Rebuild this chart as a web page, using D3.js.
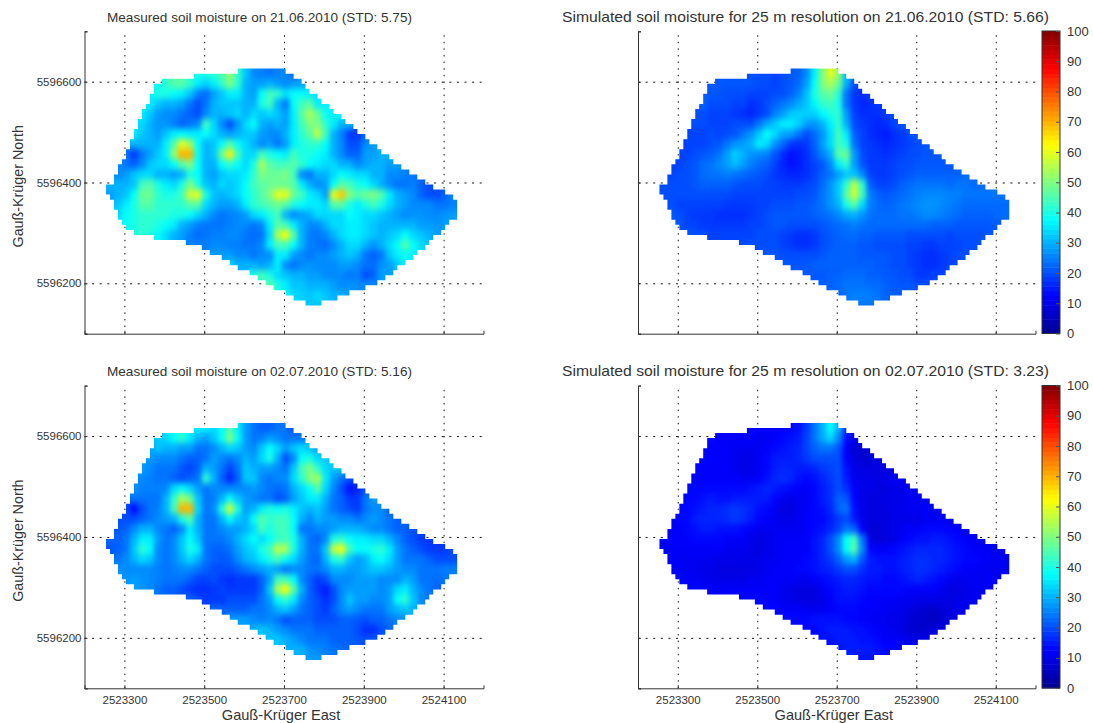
<!DOCTYPE html>
<html>
<head>
<meta charset="utf-8">
<title>Soil moisture</title>
<script src="https://cdn.jsdelivr.net/npm/d3@7"></script>
<style>
  body { margin: 0; background: #fff; overflow: hidden; }
  text { font-family: "Liberation Sans", Arial, sans-serif; fill: #333; }
</style>
</head>
<body>
<svg width="1093" height="723"></svg>
<script>
// tick labels
var eastTicks = [2523300, 2523500, 2523700, 2523900, 2524100];
var northTicks = [5596200, 5596400, 5596600];
var barTicks = [0, 10, 20, 30, 40, 50, 60, 70, 80, 90, 100];

// field outline: first and last+1 column (10 m lattice) of each 10 m row, north to south
var rowStart = [33,22,14,12,12,11,11,10,9,9,8,8,7,7,6,6,5,5,4,3,3,2,2,0,0,1,2,2,3,3,4,5,7,12,20,24,26,29,31,33,36,38,40,42,45,47,50];
var rowEnd = [45,47,49,50,51,53,54,56,57,59,60,62,63,65,66,68,69,71,72,74,76,78,80,82,85,87,88,88,88,88,86,85,84,82,81,80,78,77,75,73,72,70,68,65,61,58,54];

// soil moisture, 20 m blocks, each row starts at the outline
var measuredJune = [
  [40,40,42,45,52,42,32,26,25,24,25,26,22],
  [38,42,46,46,42,36,33,36,42,50,42,30,28,28,30,28,26,28,28],
  [36,40,40,38,36,32,25,23,28,32,36,36,30,28,38,44,42,35,38,38,36,34],
  [36,32,30,30,28,24,20,24,30,32,32,32,30,30,40,44,30,24,38,44,46,36,36],
  [36,32,28,26,26,24,22,20,26,30,30,32,34,30,34,32,34,32,28,36,46,54,48,38,36,38],
  [34,30,27,27,25,22,24,26,44,34,26,20,27,34,38,30,28,30,28,36,44,50,50,42,36,30,30],
  [36,32,30,28,32,36,38,36,36,38,34,30,28,30,32,32,28,26,26,30,36,42,46,56,44,30,25,18,18,22],
  [30,30,30,30,36,46,60,54,38,30,32,38,46,38,34,30,26,28,24,28,36,40,42,42,38,30,26,20,20,26,28],
  [24,18,24,28,32,36,52,70,70,38,30,32,48,64,44,34,34,44,40,38,36,44,40,40,38,36,30,26,22,22,28,28,30,30],
  [26,24,22,26,32,34,34,38,46,50,38,30,30,38,42,38,34,40,54,46,44,44,46,42,38,36,34,34,30,30,26,28,30,30,28,28],
  [26,28,32,34,34,30,30,28,30,40,38,30,28,32,34,34,36,42,50,48,48,50,44,26,24,30,30,34,38,36,34,34,30,30,26,26,25,24],
  [30,30,30,32,44,46,40,36,34,40,50,40,32,30,34,32,34,38,44,46,48,48,48,46,36,30,26,28,38,46,44,40,38,34,30,26,24,24,25,22,20],
  [28,30,32,38,48,48,42,40,40,44,58,60,40,32,30,32,34,38,42,46,50,60,60,48,44,36,34,28,60,68,50,46,48,50,46,36,30,28,26,22,20,20,22,26],
  [32,36,40,46,46,42,42,42,42,46,46,34,30,28,28,30,36,42,44,46,48,46,40,38,36,36,34,46,46,40,36,40,44,40,34,30,28,26,26,26,24,24,25],
  [34,38,40,42,42,42,42,40,40,38,34,30,26,24,25,26,28,34,36,40,44,30,26,28,30,34,34,34,34,38,36,34,34,32,30,28,26,27,27,26,26,27,28],
  [38,40,42,42,40,38,36,30,28,25,24,24,24,25,26,26,24,26,36,46,44,36,30,26,26,30,34,34,36,36,34,32,30,30,30,30,30,28,28,27,28],
  [40,42,40,38,34,30,28,25,23,24,25,25,26,26,24,23,24,34,54,62,46,30,25,24,26,30,34,36,36,34,32,30,32,34,38,34,32,30,28],
  [25,25,25,26,26,25,25,24,24,26,36,44,44,38,30,25,24,23,26,30,34,34,30,27,30,34,38,46,38,34,32],
  [28,28,28,26,26,24,26,26,36,36,28,26,24,26,26,28,30,32,30,24,22,24,32,36,38,36],
  [34,30,30,30,28,30,36,26,24,26,27,26,26,26,28,28,26,24,23,27,28,32,36],
  [40,44,40,34,32,30,30,28,28,26,26,26,24,25,20,22,28,28],
  [46,40,36,32,32,30,30,30,28,26,27,26,26,26],
  [36,34,33,32,34,32,30,30,28],
  [32,32]
];
var simulatedJune = [
  [20,20,20,19,20,21,22,26,36,50,60,52,30],
  [21,21,21,21,21,21,20,20,19,20,21,23,28,38,50,54,48,30,20],
  [22,21,21,20,20,20,19,19,19,20,20,22,25,31,40,46,48,42,24,18,17,18],
  [22,20,20,20,19,19,17,18,20,22,24,26,29,32,37,42,44,40,24,18,16,17,18],
  [20,20,19,19,19,18,17,16,18,20,25,28,32,33,33,33,37,40,42,28,19,17,17,17,18,20],
  [20,20,19,19,19,20,20,20,24,29,32,36,36,33,28,27,30,36,42,30,20,18,17,16,17,19,21],
  [19,19,19,20,19,20,21,24,27,32,38,34,29,28,24,20,23,27,34,44,36,22,19,17,16,15,17,18,20,21],
  [19,19,19,20,21,24,27,28,30,36,34,27,23,18,17,18,22,28,34,44,40,24,19,18,17,16,17,18,19,20,21],
  [19,19,20,21,22,24,28,33,30,27,26,25,21,17,14,15,17,21,25,30,46,48,28,20,18,18,17,18,19,20,20,21,21,21],
  [19,19,20,21,23,24,26,28,31,28,25,23,22,19,16,14,15,17,19,21,26,36,42,28,21,18,18,18,19,20,20,21,21,21,21,21],
  [19,20,20,21,23,24,24,25,24,23,22,21,20,18,17,16,16,17,19,22,24,28,32,32,26,19,18,18,19,20,21,22,22,22,22,22,22,23],
  [20,20,20,20,21,22,22,22,22,21,20,20,20,19,19,18,18,18,19,20,23,27,32,42,56,42,22,19,19,20,22,23,24,24,24,24,23,24,24,23,23],
  [20,20,20,20,20,20,20,20,20,19,19,19,19,19,19,19,19,20,20,21,24,27,32,46,58,44,25,22,21,22,23,24,25,26,26,26,25,25,24,24,24,24,24,24],
  [20,19,19,19,19,19,19,18,18,18,18,19,19,20,20,20,21,21,22,24,27,30,40,46,34,25,23,22,23,24,25,26,27,27,26,25,24,23,23,23,23,23,23],
  [21,20,19,18,18,18,17,17,17,17,18,19,20,21,21,21,21,21,22,23,24,26,29,30,27,24,23,23,23,24,24,25,26,26,25,24,23,22,22,22,22,23,23],
  [21,19,19,18,18,18,18,18,18,19,19,20,21,21,20,20,20,20,21,22,23,24,25,24,23,23,23,23,23,23,23,23,22,22,22,21,21,21,21,21,21],
  [21,20,20,19,19,19,19,19,19,20,20,20,19,18,17,17,18,20,21,22,23,23,22,22,21,21,21,21,20,20,20,20,20,19,20,20,20,20,21],
  [20,20,20,20,20,19,18,17,17,18,20,21,22,22,22,21,21,20,20,20,20,19,19,18,18,19,19,19,20,20,21],
  [21,21,20,20,20,20,20,21,22,22,22,22,21,21,21,21,20,20,19,18,17,17,18,19,20,20],
  [21,21,21,21,22,22,22,22,22,22,22,22,21,21,20,20,19,18,17,17,18,19,19],
  [21,21,21,22,22,23,23,23,22,22,21,21,20,20,18,18,19,19],
  [22,22,23,24,24,24,23,23,22,21,21,21,20,20],
  [22,24,25,25,25,24,22,22,21],
  [24,24]
];
var measuredJuly = [
  [36,36,34,38,46,36,28,24,22,22,24,24,20],
  [32,34,38,42,36,30,28,32,38,50,38,28,24,25,28,26,24,24,24],
  [28,32,30,30,28,28,24,24,26,30,34,32,28,26,32,38,34,28,32,34,32,28],
  [28,26,26,26,24,22,22,24,28,26,24,26,30,28,34,40,30,20,26,38,40,34,32],
  [28,26,24,24,24,21,19,22,30,28,24,19,24,32,30,28,28,26,24,32,44,50,42,34,32,32],
  [26,25,24,24,22,20,22,24,42,30,22,16,22,32,32,26,24,26,26,34,42,50,54,36,28,24,20],
  [27,25,25,25,26,34,38,34,28,24,26,26,26,26,26,28,26,24,23,24,30,34,38,46,34,26,20,14,16,20],
  [24,24,24,24,30,42,54,48,32,24,25,30,38,32,28,26,24,24,20,22,28,32,36,36,30,24,22,18,18,24,28],
  [20,13,20,24,25,30,44,70,70,34,24,26,40,58,40,28,30,36,40,38,40,36,32,30,32,28,24,22,20,18,24,26,26,22],
  [20,20,20,22,24,26,28,30,40,46,30,24,24,30,38,32,30,38,46,42,44,44,38,30,26,30,28,28,26,26,24,26,28,26,24,22],
  [21,22,26,30,30,26,24,22,26,36,30,24,24,26,28,28,30,34,44,40,44,44,38,24,24,26,26,28,30,30,30,28,26,26,24,22,22,20],
  [22,22,24,30,36,36,28,24,26,32,38,32,24,24,24,26,30,34,38,34,38,42,44,40,30,24,22,26,40,42,38,36,36,34,34,30,26,22,20,18,18],
  [21,22,24,32,42,38,26,24,26,32,40,36,24,22,22,24,28,32,34,40,44,56,54,40,30,24,24,32,56,62,44,38,38,40,42,36,28,24,22,20,18,18,18,20],
  [24,26,30,34,32,26,24,26,30,34,30,24,22,21,22,26,30,32,36,40,44,38,34,28,24,22,30,40,42,32,28,30,36,38,34,28,24,24,24,22,20,20,20],
  [27,26,26,26,26,25,24,25,26,26,24,22,20,20,20,22,24,26,28,30,28,24,26,26,24,24,26,30,30,28,28,30,32,32,30,28,26,26,24,24,24,25,25],
  [27,28,27,26,25,24,24,24,22,19,19,20,18,17,18,18,18,22,28,44,44,38,26,22,18,20,26,26,26,28,28,28,26,26,26,30,28,24,24,23,24],
  [28,27,26,24,22,22,20,18,17,17,18,19,18,18,18,18,22,32,54,62,46,30,22,18,15,20,26,28,28,28,28,26,28,34,36,30,26,24,22],
  [22,20,18,18,18,20,20,20,20,24,28,38,42,36,26,22,20,17,20,26,32,28,28,26,26,28,38,42,32,26,24],
  [23,22,22,22,22,24,24,26,30,32,28,24,22,20,18,22,26,28,26,24,24,24,28,30,32,30],
  [28,28,28,26,25,26,24,20,22,22,22,20,20,20,22,22,21,20,22,22,24,26,26],
  [30,32,30,28,26,24,24,24,22,22,22,22,22,20,17,17,20,22],
  [32,32,30,28,26,24,24,24,22,22,22,21,20,21],
  [30,30,30,27,26,25,24,23,22],
  [28,28]
];
var simulatedJuly = [
  [13,12,12,12,12,13,14,18,24,30,38,30,17],
  [13,12,12,12,12,12,11,11,12,13,14,15,19,24,29,34,26,14,11],
  [13,12,12,12,11,11,11,11,12,13,14,15,16,19,22,24,24,21,12,8,8,9],
  [13,12,12,12,11,10,10,11,13,15,15,15,16,18,20,20,20,20,12,9,7,8,9],
  [13,12,12,12,12,11,10,10,11,13,15,16,16,15,15,16,18,19,20,14,10,9,9,9,9,10],
  [13,12,12,12,12,12,11,11,12,14,16,17,16,14,13,14,16,18,20,15,11,10,10,9,10,11,12],
  [13,13,13,13,13,13,13,13,14,15,16,15,14,13,12,12,13,15,17,20,17,12,10,10,9,9,10,10,11,12],
  [13,13,14,15,14,14,15,15,15,15,15,13,11,10,11,11,13,15,17,22,21,13,10,9,9,10,10,10,11,11,12],
  [13,13,14,15,16,16,17,18,17,16,14,13,11,9,9,11,12,13,14,16,22,24,14,10,9,9,9,10,11,11,11,12,12,12],
  [12,13,13,15,16,16,16,17,18,17,15,13,12,11,10,10,11,12,13,13,15,18,20,15,10,9,9,9,10,10,10,10,11,11,11,11],
  [12,12,13,14,15,15,14,14,14,13,12,11,11,11,11,11,11,12,13,14,16,19,24,22,12,8,8,9,10,11,12,12,13,13,13,12,12,12],
  [12,12,12,12,13,13,13,13,12,12,12,10,9,10,11,12,12,12,12,14,16,20,26,38,44,24,10,8,9,10,12,13,14,14,15,15,14,13,12,11,11],
  [12,12,12,12,12,12,12,12,11,11,11,10,9,10,11,12,12,12,12,14,16,20,26,38,46,26,13,12,12,13,14,15,16,16,16,16,15,14,13,12,12,11,11,11],
  [12,11,11,11,11,11,10,10,10,10,10,10,11,11,12,12,12,13,14,16,18,22,28,30,21,15,14,14,14,15,16,17,17,16,16,15,14,13,13,12,12,11,11],
  [12,12,11,11,10,10,9,9,9,9,9,10,11,12,12,12,13,13,14,15,16,18,20,20,17,15,15,14,14,15,16,17,17,16,15,14,13,12,12,11,11,11,11],
  [13,12,11,11,10,10,10,10,10,11,11,12,12,12,12,11,11,12,13,14,15,16,16,15,14,14,13,13,14,15,16,15,14,13,11,10,11,11,11,12,12],
  [13,13,12,12,12,12,12,12,12,12,12,12,11,10,9,9,9,11,13,14,15,15,14,13,13,13,13,13,12,12,12,12,11,9,9,10,11,11,12],
  [13,13,13,12,12,11,10,9,9,9,10,12,14,14,14,13,12,12,12,12,11,11,10,10,10,10,9,10,10,11,12],
  [13,13,12,12,12,11,11,11,12,13,13,13,12,12,12,11,11,10,9,8,7,7,8,9,10,11],
  [13,13,13,13,14,14,14,14,13,13,12,12,11,11,10,10,8,7,7,6,7,8,9],
  [13,13,14,15,15,15,14,14,13,12,11,11,9,8,7,7,8,9],
  [14,14,15,15,15,14,14,13,12,12,11,10,10,10],
  [14,15,15,15,15,14,13,13,12],
  [14,14]
];

var titles = [
  "Measured soil moisture on 21.06.2010 (STD: 5.75)",
  "Simulated soil moisture for 25 m resolution on 21.06.2010 (STD: 5.66)",
  "Measured soil moisture on 02.07.2010 (STD: 5.16)",
  "Simulated soil moisture for 25 m resolution on 02.07.2010 (STD: 3.23)"
];
var grids = [measuredJune, simulatedJune, measuredJuly, simulatedJuly];

var svg = d3.select("svg");

// matlab jet
var jet = d3.scaleLinear()
    .domain([0, 12.5, 37.5, 62.5, 87.5, 100])
    .range(["#00008f", "#0000ff", "#00ffff", "#ffff00", "#ff0000", "#800000"])
    .clamp(true);

var eastDomain = [2523200, 2524200];
var northDomain = [5596100, 5596700];
var eastStart = 2523254;
var northStart = 5596626;

var defs = svg.append("defs");

// soften the blocks, then put the edge back to full opacity (outline is clipped anyway)
var blur = defs.append("filter").attr("id", "soft")
    .attr("x", "-5%").attr("y", "-5%").attr("width", "110%").attr("height", "110%")
    .attr("color-interpolation-filters", "sRGB");
blur.append("feGaussianBlur").attr("stdDeviation", "2.6 3.2");
blur.append("feComponentTransfer").append("feFuncA")
    .attr("type", "linear").attr("slope", 40);

function drawPanel(index, left, right, top, bottom) {
    var x = d3.scaleLinear().domain(eastDomain).range([left, right]);
    var y = d3.scaleLinear().domain(northDomain).range([bottom, top]);
    var isLeft = index % 2 == 0;
    var isLow = index > 1;
    var g = svg.append("g");

    // dotted grid under the map
    var gridX = g.append("g")
        .attr("transform", "translate(0," + bottom + ")")
        .call(d3.axisBottom(x).tickValues(eastTicks).tickSize(top - bottom).tickFormat(""));
    var gridY = g.append("g")
        .attr("transform", "translate(" + left + ",0)")
        .call(d3.axisLeft(y).tickValues(northTicks).tickSize(left - right).tickFormat(""));
    gridX.select(".domain").remove();
    gridY.select(".domain").remove();
    gridX.selectAll("line").attr("stroke", "#111").attr("stroke-dasharray", "1.5,5.1");
    gridY.selectAll("line").attr("stroke", "#111").attr("stroke-dasharray", "2,5.6");

    // outline clip: staircase down the east side, back up the west side
    var clipId = "field" + index;
    var path = d3.path();
    var rows = d3.range(rowStart.length);
    path.moveTo(x(eastStart + rowEnd[0] * 10), y(northStart));
    rows.forEach(function(i) {
        path.lineTo(x(eastStart + rowEnd[i] * 10), y(northStart - i * 10));
        path.lineTo(x(eastStart + rowEnd[i] * 10), y(northStart - (i + 1) * 10));
    });
    rows.slice().reverse().forEach(function(i) {
        path.lineTo(x(eastStart + rowStart[i] * 10), y(northStart - (i + 1) * 10));
        path.lineTo(x(eastStart + rowStart[i] * 10), y(northStart - i * 10));
    });
    path.closePath();
    defs.append("clipPath").attr("id", clipId)
        .append("path").attr("d", path.toString());

    // flatten rows into cells
    var cells = [];
    grids[index].forEach(function(row, r) {
        var first = Math.floor(Math.min(rowStart[r * 2], r * 2 + 1 < rowStart.length ? rowStart[r * 2 + 1] : 999) / 2);
        row.forEach(function(v, c) {
            cells.push({ col: first + c, row: r, value: v });
        });
    });

    g.append("g").attr("clip-path", "url(#" + clipId + ")")
        .append("g").attr("filter", "url(#soft)")
        .selectAll("rect")
        .data(cells)
        .join("rect")
        .attr("x", function(d) { return x(eastStart + d.col * 20); })
        .attr("y", function(d) { return y(northStart - d.row * 20); })
        .attr("width", x(eastStart + 20) - x(eastStart) + 0.5)
        .attr("height", y(northStart - 20) - y(northStart) + 0.5)
        .attr("fill", function(d) { return jet(d.value); });

    // axes
    var axisX = g.append("g")
        .attr("transform", "translate(0," + bottom + ")")
        .call(d3.axisBottom(x).tickValues(eastTicks).tickSize(-3).tickPadding(9)
            .tickFormat(isLow ? d3.format("d") : ""));
    axisX.select(".domain").attr("stroke", "#333");
    axisX.selectAll("line").attr("stroke", "#333");
    axisX.selectAll("text").style("font-size", "11.5px").attr("dy", "0.6em");

    var axisY = g.append("g")
        .attr("transform", "translate(" + left + ",0)")
        .call(d3.axisLeft(y).tickValues([northDomain[0]].concat(northTicks, [northDomain[1]]))
            .tickSize(-3).tickPadding(3)
            .tickFormat(function(d) { return isLeft && northTicks.indexOf(d) >= 0 ? d : ""; }));
    axisY.select(".domain").attr("stroke", "#333");
    axisY.selectAll("line").attr("stroke", "#333");
    axisY.selectAll("text").style("font-size", "11.5px");

    g.append("text")
        .attr("x", isLeft ? 259.5 : 805.5)
        .attr("y", top - 9.5)
        .attr("text-anchor", "middle")
        .attr("textLength", isLeft ? 305 : 487)
        .attr("lengthAdjust", "spacingAndGlyphs")
        .style("font-size", isLeft ? "13.5px" : "14.5px")
        .text(titles[index]);

    if (isLeft) {
        g.append("text")
            .attr("transform", "translate(23," + (top + 155) + ") rotate(-90)")
            .attr("text-anchor", "middle")
            .style("font-size", "14.3px")
            .text("Gauß-Krüger North");
    }
    if (isLow) {
        g.append("text")
            .attr("x", (left + right) / 2 - 3)
            .attr("y", 720)
            .attr("text-anchor", "middle")
            .style("font-size", "14.6px")
            .text("Gauß-Krüger East");
    }
}

function drawColorbar(left, right, top, bottom) {
    var y = d3.scaleLinear().domain([0, 100]).range([bottom, top]);
    var steps = d3.range(64);
    var bar = svg.append("g");

    bar.selectAll("rect")
        .data(steps)
        .join("rect")
        .attr("x", left)
        .attr("width", right - left)
        .attr("y", function(s) { return y((s + 1) * 100 / 64); })
        .attr("height", (bottom - top) / 64 + 0.5)
        .attr("fill", function(s) { return jet((s + 0.5) * 100 / 64); });

    bar.append("rect")
        .attr("x", left).attr("y", top)
        .attr("width", right - left).attr("height", bottom - top)
        .attr("fill", "none").attr("stroke", "#333");

    var axis = bar.append("g")
        .attr("transform", "translate(" + right + ",0)")
        .call(d3.axisRight(y).tickValues(barTicks).tickSize(-4).tickPadding(7));
    axis.select(".domain").remove();
    axis.selectAll("line").attr("stroke", "#555");
    axis.selectAll("text").style("font-size", "13px").attr("fill", "#333");
}

drawPanel(0, 84.5, 483.5, 31.3, 333.7);
drawPanel(1, 638, 1035.5, 31.3, 333.7);
drawPanel(2, 84.5, 483.5, 385.6, 688.3);
drawPanel(3, 638, 1035.5, 385.6, 688.3);
drawColorbar(1042, 1060, 31, 333.5);
drawColorbar(1042, 1060, 385.5, 688);
</script>
</body>
</html>
